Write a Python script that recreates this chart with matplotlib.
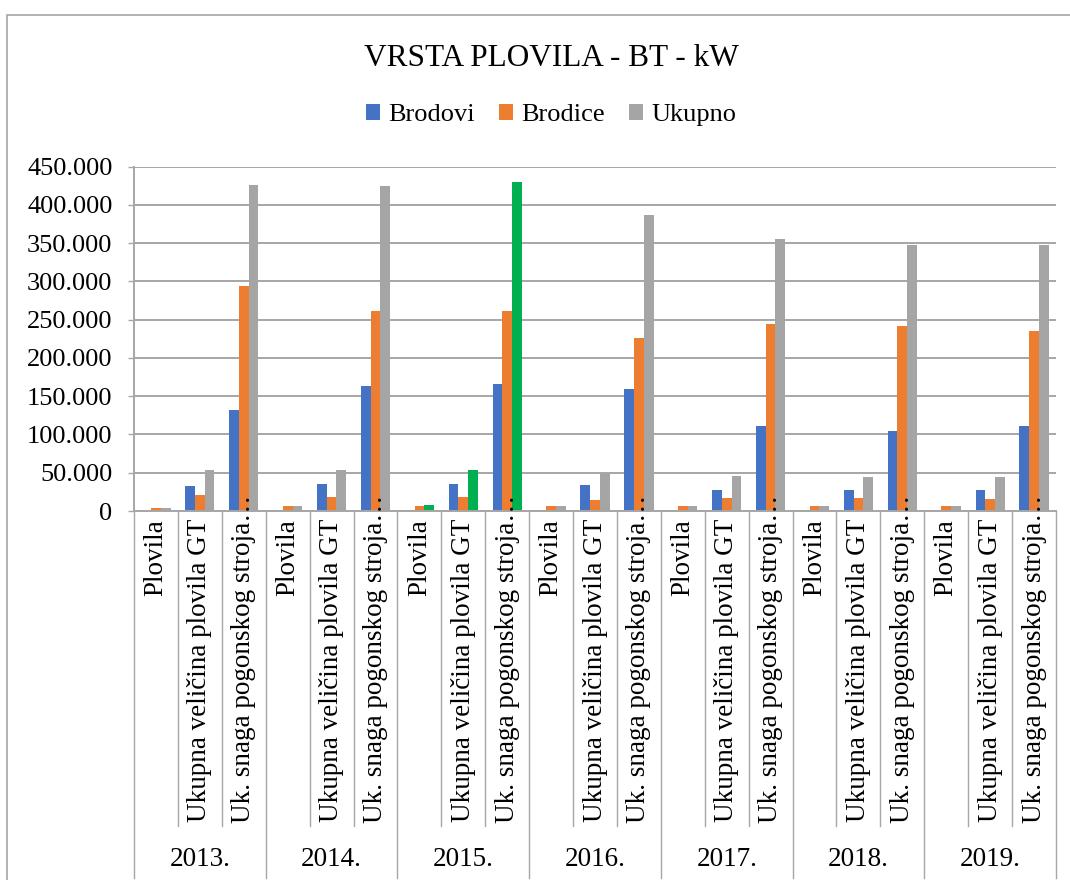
import numpy as np
import matplotlib
matplotlib.use('Agg')
import matplotlib.pyplot as plt
from matplotlib.patches import Rectangle
from matplotlib.ticker import FuncFormatter

plt.rcParams['font.family'] = ['Liberation Serif', 'DejaVu Serif']

years = ['2013.', '2014.', '2015.', '2016.', '2017.', '2018.', '2019.']
categories = ['Plovila', 'Ukupna veličina plovila GT', 'Uk. snaga pogonskog stroja…']
series_names = ['Brodovi', 'Brodice', 'Ukupno']

brodovi = [200, 32200, 131400, 200, 34800, 163100, 200, 35200, 166600,
           200, 33500, 159600, 200, 27400, 110500, 200, 27000, 104400,
           200, 27800, 111400]
brodice = [3300, 20400, 293600, 6900, 17800, 261000, 6900, 17800, 261900,
           6900, 14400, 226600, 6900, 17000, 244000, 6900, 17000, 242300,
           6900, 16100, 235800]
ukupno = [3500, 53100, 426300, 7100, 53100, 425000, 7800, 53500, 430200,
          7100, 49100, 386700, 7100, 45200, 355000, 7100, 43900, 347600,
          7100, 43900, 347600]
highlight_year = '2015.'

colors = ['#4472C4', '#ED7D31', '#A5A5A5']
green = '#00B050'
grid_col = '#A6A6A6'

W, H = 1070, 880
fig = plt.figure(figsize=(W / 100, H / 100), dpi=100)

# plot area in pixels
x0, x1 = 134, 1056
y_zero, y_top = 511, 166.7
ax = fig.add_axes([x0 / W, (H - y_zero) / H, (x1 - x0) / W, (y_zero - y_top) / H])

def py(ypx):
    # pixel row -> axes fraction
    return (y_zero - ypx) / (y_zero - y_top)

n = len(years) * len(categories)
x = np.arange(n)
w = 1 / 4.5

uk_colors = []
for yr in years:
    for c in categories:
        uk_colors.append(green if yr == highlight_year else colors[2])

b1 = ax.bar(x - w, brodovi, w, color=colors[0], label=series_names[0], zorder=2)
b2 = ax.bar(x, brodice, w, color=colors[1], label=series_names[1], zorder=2)
b3 = ax.bar(x + w, ukupno, w, color=uk_colors, label=series_names[2], zorder=2)

ax.set_xlim(-0.5, n - 0.5)
ax.set_ylim(0, 450000)
ax.set_yticks(np.arange(0, 450001, 50000))
ax.yaxis.set_major_formatter(FuncFormatter(lambda v, p: f'{int(v):,}'.replace(',', '.')))
ax.tick_params(axis='y', labelsize=19, length=4.5, width=1, color=grid_col, pad=11)
ax.set_xticks([])
ax.yaxis.grid(True, color=grid_col, lw=1.4)
ax.set_axisbelow(True)
for s in ['top', 'right']:
    ax.spines[s].set_visible(False)
for s in ['left', 'bottom']:
    ax.spines[s].set_color(grid_col)
    ax.spines[s].set_linewidth(1.4)

# category labels and separators
tr = ax.get_xaxis_transform()
for i in range(n + 1):
    xb = i - 0.5
    ybot = py(878) if i % 3 == 0 else py(826)
    ax.plot([xb, xb], [0, ybot], transform=tr, clip_on=False, color=grid_col, lw=1)

for i in range(n):
    lab = categories[i % 3]
    if i % 3 == 2:
        ax.text(i, py(823), lab, transform=tr, rotation=90, ha='center', va='bottom',
                fontsize=19.5, clip_on=False, zorder=5)
    else:
        ax.text(i, py(519), lab, transform=tr, rotation=90, ha='center', va='top',
                fontsize=19.5, clip_on=False, zorder=5)

for k, yr in enumerate(years):
    ax.text(3 * k + 1, py(860), yr, transform=tr, ha='center', va='center', fontsize=19.5)

fig.text(551 / W, 1 - 58 / H, 'VRSTA PLOVILA - BT - kW', ha='center', va='center', fontsize=22.5)
fig.legend(handles=[b1, b2, b3], labels=series_names, loc='center',
           bbox_to_anchor=(551 / W, 1 - 115 / H), ncol=3, frameon=False, fontsize=19,
           handlelength=0.55, handleheight=0.55, handletextpad=0.3, columnspacing=0.9)

fig.add_artist(Rectangle((7 / W, -0.02), 1.1, 1 - 15 / H + 0.02, transform=fig.transFigure,
                         fill=False, edgecolor=grid_col, lw=1.2))

plt.savefig('out.png', dpi=100)
